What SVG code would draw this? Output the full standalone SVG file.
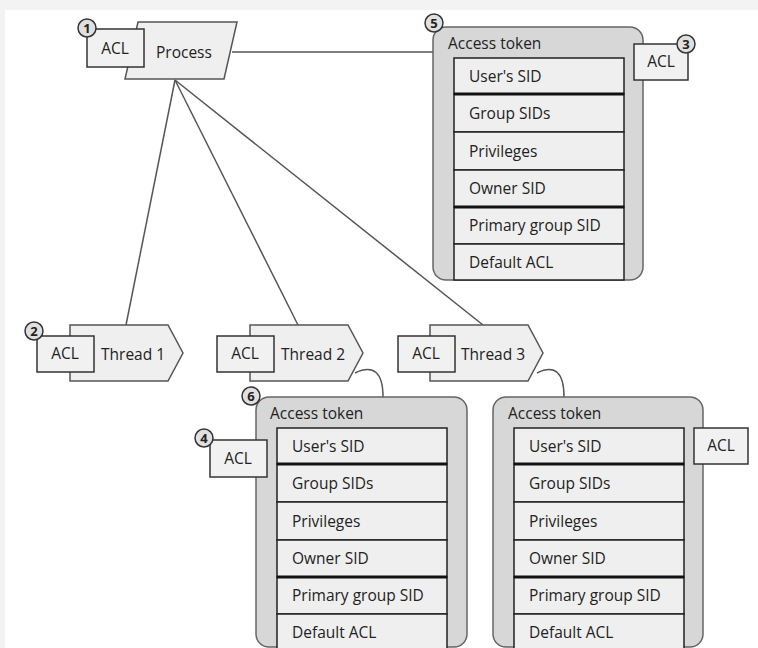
<svg xmlns="http://www.w3.org/2000/svg" width="758" height="648" viewBox="0 0 758 648">
<style>
text{font-family:"Open Sans","Noto Sans","DejaVu Sans",sans-serif;font-size:15.5px;fill:#222}
.shape{fill:#efefef;stroke:#555;stroke-width:1.5}
.acl{fill:#f1f1f1;stroke:#333;stroke-width:1.5}
.outer{fill:#d7d7d7;stroke:#666;stroke-width:1.5}
.row{fill:#efefef;stroke:#222;stroke-width:1.5}
.heavy{stroke:#111;stroke-width:3}
.num{fill:#e0e0e0;stroke:#333;stroke-width:1.5}
.numt{font-size:13px;font-weight:bold;text-anchor:middle}
.conn{fill:none;stroke:#555;stroke-width:1.5}
.c{text-anchor:middle}
</style>
<rect x="0" y="0" width="758" height="648" fill="#fff"/>
<rect x="0" y="0" width="758" height="10" fill="#f3f3f3"/>
<rect x="0" y="0" width="5" height="648" fill="#f3f3f3"/>
<defs>
<g id="rows">
<rect class="row" x="0" y="0" width="170" height="36"/>
<rect class="row" x="0" y="36" width="170" height="38"/>
<rect class="row" x="0" y="74" width="170" height="38"/>
<rect class="row" x="0" y="112" width="170" height="37"/>
<rect class="row" x="0" y="149" width="170" height="37"/>
<rect class="row" x="0" y="186" width="170" height="36"/>
<line class="heavy" x1="0" y1="36" x2="170" y2="36"/>
<line class="heavy" x1="0" y1="149" x2="170" y2="149"/>
<text x="15" y="24">User's SID</text>
<text x="15" y="61">Group SIDs</text>
<text x="15" y="99">Privileges</text>
<text x="15" y="136">Owner SID</text>
<text x="15" y="173">Primary group SID</text>
<text x="15" y="210">Default ACL</text>
</g>
</defs>
<g id="connectors">
<line class="conn" x1="232" y1="52" x2="433" y2="52"/>
<line class="conn" x1="175" y1="80" x2="126" y2="325"/>
<line class="conn" x1="175" y1="80" x2="298" y2="325"/>
<line class="conn" x1="175" y1="80" x2="483" y2="325"/>
<path class="conn" d="M355 373 Q383 360 383 397"/>
<path class="conn" d="M537 373 Q564 360 564 397"/>
</g>
<g id="process">
<polygon class="shape" points="138,22 237,22 224,79 125,79"/>
<text x="156" y="58">Process</text>
<rect class="acl" x="87" y="29" width="57" height="38"/>
<text class="c" x="115" y="54">ACL</text>
<circle class="num" cx="87" cy="28" r="9"/>
<text class="numt" x="87" y="32.5">1</text>
</g>
<g id="token1">
<rect class="outer" x="433" y="27" width="210" height="253" rx="13"/>
<text x="448" y="49">Access token</text>
<use href="#rows" x="454" y="58"/>
<circle class="num" cx="434" cy="23" r="9"/>
<text class="numt" x="434" y="27.5">5</text>
</g>
<g id="acl3">
<rect class="acl" x="634" y="44" width="54" height="36"/>
<text class="c" x="661" y="67">ACL</text>
<circle class="num" cx="686" cy="44" r="9"/>
<text class="numt" x="686" y="48.5">3</text>
</g>
<g id="thread1">
<polygon class="shape" points="70,325 168,325 183,353 168,381 70,381"/>
<text x="101" y="360">Thread 1</text>
<rect class="acl" x="37" y="336" width="57" height="36"/>
<text class="c" x="65" y="359">ACL</text>
<circle class="num" cx="34" cy="331" r="9"/>
<text class="numt" x="34" y="335.5">2</text>
</g>
<g id="thread2">
<polygon class="shape" points="250,325 348,325 363,353 348,381 250,381"/>
<text x="281" y="360">Thread 2</text>
<rect class="acl" x="217" y="336" width="57" height="36"/>
<text class="c" x="245" y="359">ACL</text>
</g>
<g id="thread3">
<polygon class="shape" points="430,325 528,325 543,353 528,381 430,381"/>
<text x="461" y="360">Thread 3</text>
<rect class="acl" x="398" y="336" width="57" height="36"/>
<text class="c" x="426" y="359">ACL</text>
</g>
<g id="token2">
<rect class="outer" x="256" y="397" width="211" height="250" rx="13"/>
<text x="270" y="419">Access token</text>
<use href="#rows" x="277" y="428"/>
<circle class="num" cx="251" cy="396" r="9"/>
<text class="numt" x="251" y="400.5">6</text>
</g>
<g id="acl4">
<rect class="acl" x="210" y="440" width="57" height="37"/>
<text class="c" x="238" y="464">ACL</text>
<circle class="num" cx="204" cy="438" r="9"/>
<text class="numt" x="204" y="442.5">4</text>
</g>
<g id="token3">
<rect class="outer" x="493" y="397" width="210" height="250" rx="13"/>
<text x="508" y="419">Access token</text>
<use href="#rows" x="514" y="428"/>
</g>
<g id="acl5">
<rect class="acl" x="694" y="428" width="54" height="36"/>
<text class="c" x="721" y="451">ACL</text>
</g>
</svg>
